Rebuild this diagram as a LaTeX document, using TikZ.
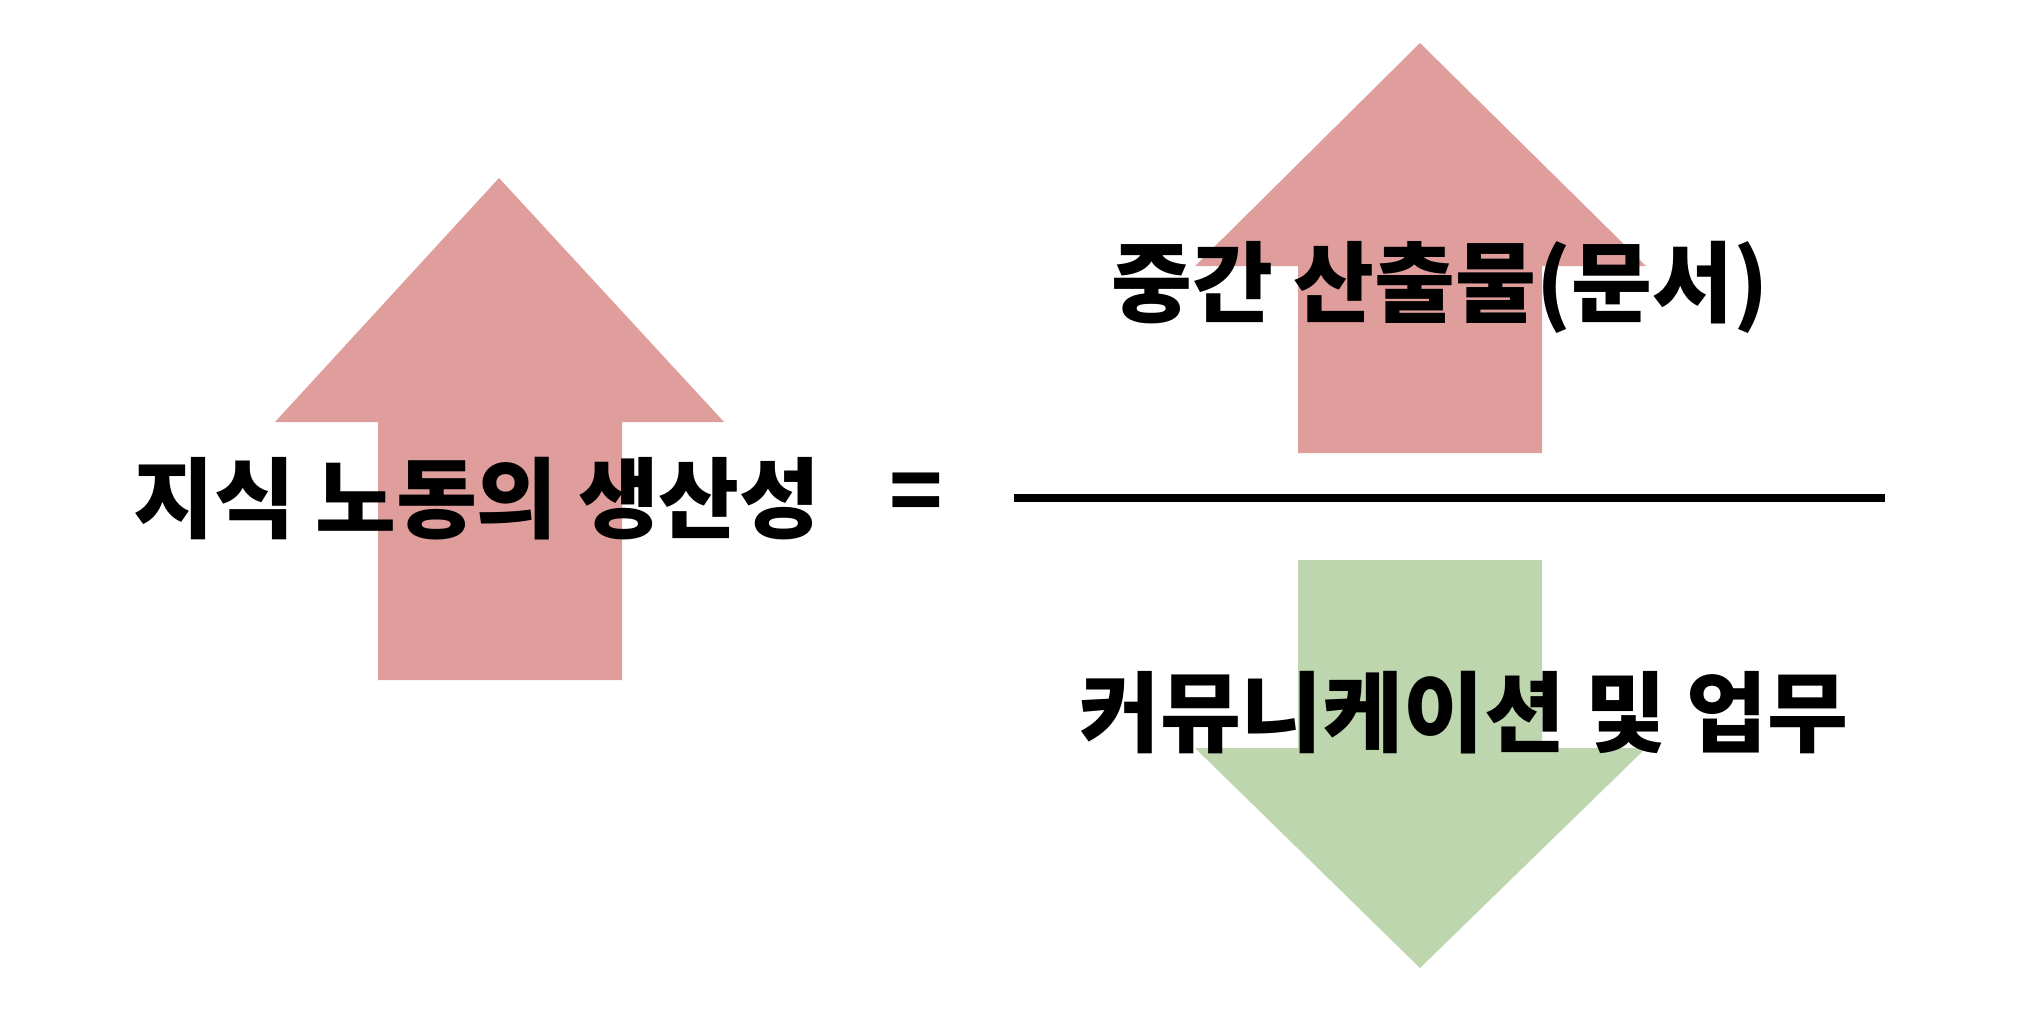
\documentclass[tikz,border=0pt]{standalone}
\usepackage{fontspec}
\newfontfamily\kofont{Noto Sans CJK KR}
\usetikzlibrary{calc,positioning}
\definecolor{arrowred}{RGB}{223,157,156}
\definecolor{arrowgreen}{RGB}{189,214,174}
\tikzset{
  uparrow/.style={fill=arrowred,draw=none},
  downarrow/.style={fill=arrowgreen,draw=none},
  fracline/.style={line width=2pt,draw=black},
  kolabel/.style={font=\kofont\bfseries\fontsize{25}{30}\selectfont,inner sep=0pt,text=black}
}

\begin{document}
\begin{tikzpicture}[x=0.01cm,y=-0.01cm]
  \useasboundingbox (0,0) rectangle (2032,1024);
  % left arrow
  \draw[uparrow] (499,178)--(724,422)--(622,422)--(622,680)--(378,680)--(378,422)--(275,422)--cycle;
  % upper right arrow
  \draw[uparrow] (1420,43)--(1646,266)--(1542,266)--(1542,453)--(1298,453)--(1298,266)--(1195,266)--cycle;
  % lower right arrow
  \draw[downarrow] (1298,560)--(1542,560)--(1542,748)--(1646,748)--(1420,968)--(1195,748)--(1298,748)--cycle;
  % fraction bar
  \coordinate (barL) at (1014,498);
  \coordinate (barR) at (1885,498);
  \draw[fracline] (barL)--(barR);
  \node[kolabel] (prod) at (477,499) {지식 노동의 생산성};
  \node[kolabel] (eq) at (916,498) {=};
  \node[kolabel] (doc) at (1440,287) {중간 산출물(문서)};
  \node[kolabel] (comm) at (1464,713) {커뮤니케이션 및 업무};
\end{tikzpicture}
\end{document}
